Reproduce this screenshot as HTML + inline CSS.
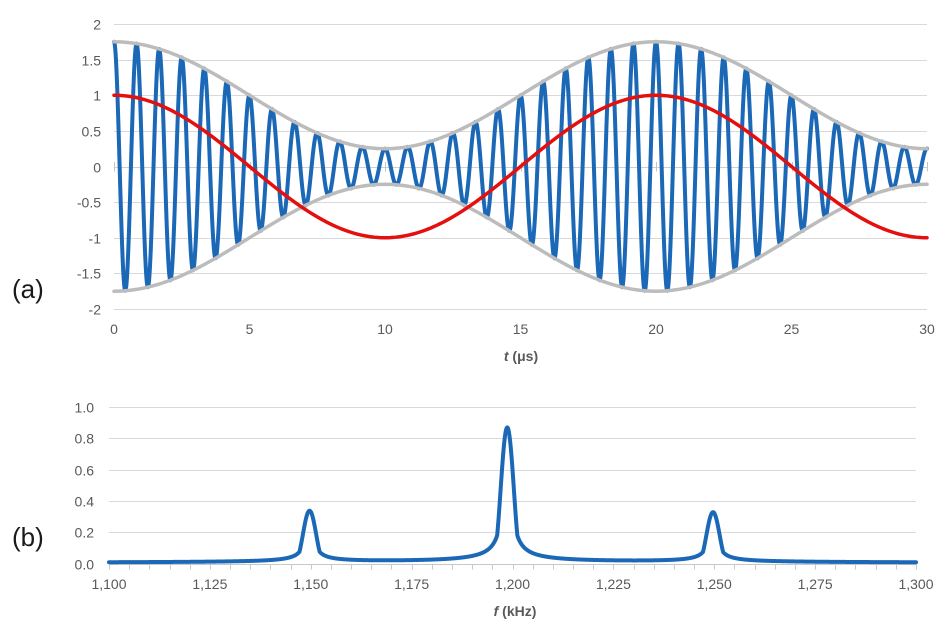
<!DOCTYPE html>
<html>
<head>
<meta charset="utf-8">
<style>
  html, body { margin:0; padding:0; background:#ffffff; }
  body { width:943px; height:625px; overflow:hidden; }
  svg { display:block; }
  .lbl { font-family:"Liberation Sans", sans-serif; font-size:14px; fill:#595959; }
  .ttl { font-family:"Liberation Sans", sans-serif; font-size:14px; fill:#595959; font-weight:bold; }
  .pan { font-family:"Liberation Sans", sans-serif; font-size:26px; fill:#1a1a1a; }
</style>
</head>
<body>
<svg id="s" width="943" height="625" viewBox="0 0 943 625" xmlns="http://www.w3.org/2000/svg">
  <rect x="0" y="0" width="943" height="625" fill="#ffffff"/>
  <g id="grid"></g>
  <g id="labels"></g>
  <path id="blue" fill="none" stroke="#1b68b7" stroke-width="4" stroke-linejoin="round" stroke-linecap="round"/>
  <path id="envU" fill="none" stroke="#bcbcbc" stroke-width="3.5" stroke-linecap="round"/>
  <path id="envL" fill="none" stroke="#bcbcbc" stroke-width="3.5" stroke-linecap="round"/>
  <path id="red" fill="none" stroke="#e3100f" stroke-width="3.5" stroke-linecap="round"/>
  <path id="spec" fill="none" stroke="#1b68b7" stroke-width="4" stroke-linejoin="round" stroke-linecap="round"/>

  <text class="pan" x="12" y="298">(a)</text>
  <text class="pan" x="12" y="546">(b)</text>

  <text class="ttl" x="521" y="361" text-anchor="middle"><tspan font-style="italic">t</tspan> (μs)</text>
  <text class="ttl" x="515" y="616" text-anchor="middle"><tspan font-style="italic">f</tspan> (kHz)</text>
</svg>
<script>
(function(){
  var NS = "http://www.w3.org/2000/svg";
  var grid = document.getElementById("grid");
  var labels = document.getElementById("labels");
  function line(x1,y1,x2,y2,c,w){
    var l=document.createElementNS(NS,"line");
    l.setAttribute("x1",x1);l.setAttribute("y1",y1);l.setAttribute("x2",x2);l.setAttribute("y2",y2);
    l.setAttribute("stroke",c);l.setAttribute("stroke-width",w||1);
    grid.appendChild(l);
  }
  function text(x,y,s,anchor){
    var t=document.createElementNS(NS,"text");
    t.setAttribute("x",x);t.setAttribute("y",y);t.setAttribute("class","lbl");
    t.setAttribute("text-anchor",anchor||"middle");
    t.textContent=s;labels.appendChild(t);
  }
  // ---- Top chart ----
  var X0=114, XS=27.1;
  var Y0=166.5, YS=71.25;
  function X(t){return X0+t*XS;}
  function Y(v){return Y0-v*YS;}
  var yv=[2,1.5,1,0.5,0,-0.5,-1,-1.5,-2];
  var ylab=["2","1.5","1","0.5","0","-0.5","-1","-1.5","-2"];
  for(var i=0;i<yv.length;i++){
    var y=Math.round(Y(yv[i]))+0.5;
    line(X(0),y,X(30),y,(yv[i]===0)?"#cfcfcf":"#d9d9d9",1);
    text(101,y+5,ylab[i],"end");
  }
  for(var t=0;t<=30;t+=5){
    var xx=Math.round(X(t))+0.5;
    line(xx,162,xx,171.5,"#c4c4c4",1);
    text(X(t),334,String(t),"middle");
  }
  var pb=[],pu=[],pl=[],pr=[];
  var N=3000;
  for(var k=0;k<=N;k++){
    var tt=30*k/N;
    var env=1+0.75*Math.cos(2*Math.PI*tt/20);
    var s=Math.cos(2*Math.PI*1.2*tt)*env;
    var xs=X(tt).toFixed(2);
    pb.push((k?"L":"M")+xs+" "+Y(s).toFixed(2));
    if(k%10===0){
      pu.push((k?"L":"M")+xs+" "+Y(env).toFixed(2));
      pl.push((k?"L":"M")+xs+" "+Y(-env).toFixed(2));
      pr.push((k?"L":"M")+xs+" "+Y(Math.cos(2*Math.PI*tt/20)).toFixed(2));
    }
  }
  document.getElementById("blue").setAttribute("d",pb.join(""));
  document.getElementById("envU").setAttribute("d",pu.join(""));
  document.getElementById("envL").setAttribute("d",pl.join(""));
  document.getElementById("red").setAttribute("d",pr.join(""));

  // ---- Bottom chart ----
  var FX0=109, FXS=4.035;
  var FY0=563.5, FYS=156.5;
  function FX(f){return FX0+(f-1100)*FXS;}
  function FY(v){return FY0-v*FYS;}
  var bv=[1.0,0.8,0.6,0.4,0.2];
  for(var i=0;i<bv.length;i++){
    var y=Math.round(FY(bv[i]))+0.5;
    line(FX(1100),y,FX(1300),y,"#d9d9d9",1);
    text(94,y+5,bv[i].toFixed(1),"end");
  }
  var ay=Math.round(FY0)+0.5;
  line(FX(1100),ay,FX(1300),ay,"#c8c8c8",1);
  text(94,ay+5,"0.0","end");
  for(var f=1100;f<=1300;f+=5){
    var xx=Math.round(FX(f))+0.5;
    line(xx,ay,xx,ay+5,"#c8c8c8",1);
  }
  var flab=["1,100","1,125","1,150","1,175","1,200","1,225","1,250","1,275","1,300"];
  for(var i=0;i<flab.length;i++){
    text(FX(1100+25*i),589,flab[i],"middle");
  }
  var peaks=[[1149.7,0.262],[1198.7,0.69],[1249.7,0.255]];
  var w=2.5;
  function sinc(x){ if(Math.abs(x)<1e-9) return 1; return Math.sin(Math.PI*x)/(Math.PI*x); }
  var ps=[];
  var M=4000;
  for(var k=0;k<=M;k++){
    var ff=1100+200*k/M;
    var v=0.003;
    for(var j=0;j<peaks.length;j++){
      var d=ff-peaks[j][0], A=peaks[j][1], ad=Math.abs(d);
      if(ad<w) v+=A*sinc(d/w);
      v+=A*0.25*Math.pow(w/Math.max(ad,w),1.15);
    }
    ps.push((k?"L":"M")+FX(ff).toFixed(2)+" "+FY(v).toFixed(2));
  }
  document.getElementById("spec").setAttribute("d",ps.join(""));
})();
</script>
</body>
</html>
